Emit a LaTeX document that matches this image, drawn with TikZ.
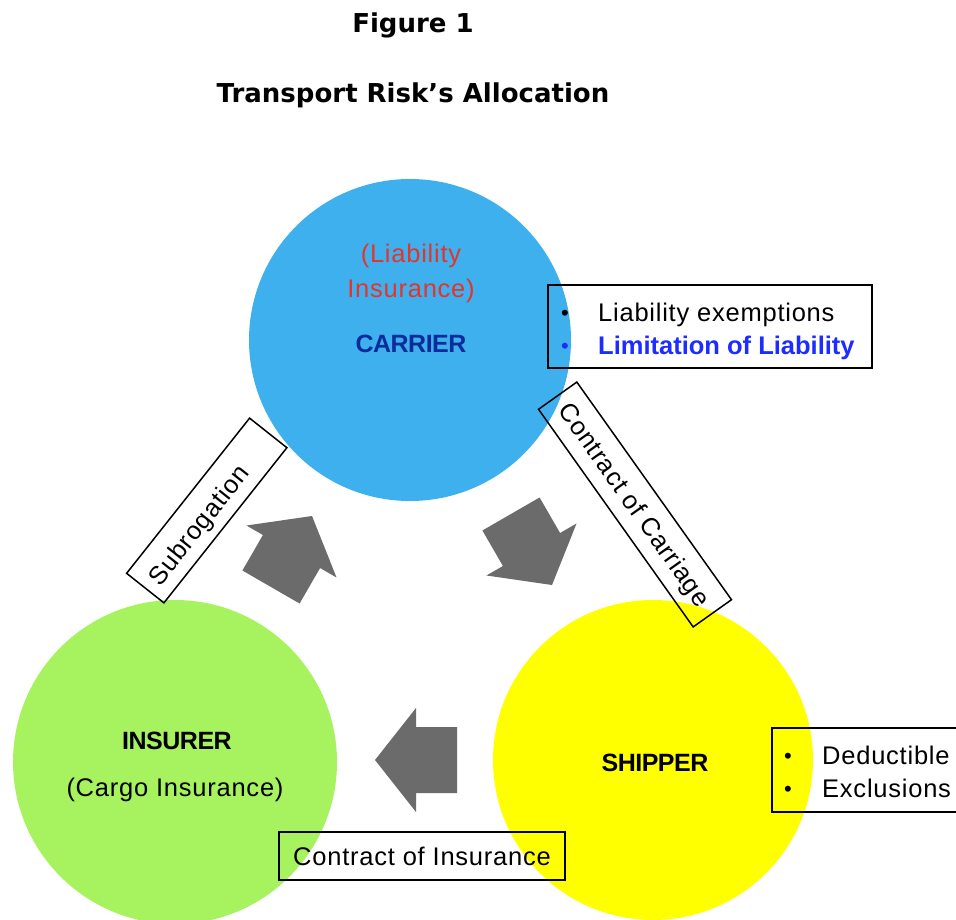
\documentclass[tikz,border=0pt]{standalone}
\usepackage{fontspec}
\usepackage{graphicx}
\setmainfont{Liberation Sans}
\newfontfamily\titlefont{DejaVu Sans}

\definecolor{carrierblue}{HTML}{3DB0ED}
\definecolor{insurergreen}{HTML}{A7F35F}
\definecolor{shipperyellow}{HTML}{FFFF00}
\definecolor{flowgray}{HTML}{6B6B6B}
\definecolor{liabred}{HTML}{E5342B}
\definecolor{carriertext}{HTML}{0C2C9C}
\definecolor{limitblue}{HTML}{1E2DFF}

\tikzset{
  party/.style={circle, inner sep=0pt, outer sep=0pt},
  % text boxes are cut to the cap height so that centre = middle of the capitals
  capbox/.style={text height=18.3pt, text depth=0pt},
  txt/.style={inner sep=0pt, capbox,
    font=\fontsize{25.5}{30}\selectfont\addfontfeatures{LetterSpace=3}},
  heavy/.style={txt, font=\fontsize{25}{30}\selectfont\bfseries\addfontfeatures{LetterSpace=-2}},
  tag/.style={draw=black, line width=1.5pt, rectangle, inner sep=0pt, fill=none},
  dot/.style={inner sep=0pt, text height=16pt, text depth=0pt, font=\fontsize{22}{26}\selectfont},
  headline/.style={inner sep=0pt, text height=19.2pt, text depth=0pt,
    font=\titlefont\fontsize{26}{30}\selectfont\bfseries},
  flowarrow/.pic={
    \fill[flowgray] (0,0) -- (-41,-52) -- (-41,-33) -- (-82,-33)
      -- (-82,33) -- (-41,33) -- (-41,52) -- cycle;
  }
}

\begin{document}
\begin{tikzpicture}[x=1pt, y=-1pt]
  \path[use as bounding box, clip] (0,0) rectangle (956,920);
  \fill[white] (0,0) rectangle (956,920);

  % headings
  \node[headline] (fig) at (413,23) {Figure 1};
  \node[headline] (title) at (413,93) {Transport Risk’s Allocation};

  % the three parties
  \node[party, fill=carrierblue, minimum size=322pt] (carrier) at (410,340) {};
  \node[party, fill=insurergreen, minimum size=324pt] (insurer) at (175,762) {};
  \node[party, fill=shipperyellow, minimum size=320pt] (shipper) at (653,760) {};

  % flow arrows between the parties
  \pic (toCarrier) [rotate=60] at (312,516) {flowarrow};
  \pic (toShipper) [rotate=-60] at (552,585) {flowarrow};
  \pic (toInsurer) [rotate=180] at (375,760) {flowarrow};

  % carrier labels
  \node[txt, text=liabred] (liab1) at (411,253) {(Liability};
  \node[txt, text=liabred] (liab2) at (411,288) {Insurance)};
  \node[heavy, text=carriertext] (carrierlbl) at (411,343) {CARRIER};

  % insurer labels
  \node[heavy] (insurerlbl) at (177,740) {INSURER};
  \node[txt] (cargo) at (175,787) {(Cargo Insurance)};

  % shipper label
  \node[heavy] (shipperlbl) at (655,762) {SHIPPER};

  % carrier defences
  \node[tag, minimum width=324pt, minimum height=83pt] (defbox) at (710,326.5) {};
  \node[dot] (b1) at (565,312) {•};
  \node[dot, text=limitblue] (b2) at (565,345) {•};
  \node[txt, anchor=west] (exempt) at (598,312) {Liability exemptions};
  \node[txt, anchor=west, text=limitblue,
        font=\fontsize{25.5}{30}\selectfont\bfseries] (limit) at (598,345) {Limitation of Liability};

  % shipper retentions
  \node[tag, minimum width=240pt, minimum height=84pt] (retbox) at (892,770) {};
  \node[dot] (b3) at (788,755) {•};
  \node[dot] (b4) at (788,788) {•};
  \node[txt, anchor=west] (deduct) at (822,755) {Deductible};
  \node[txt, anchor=west] (excl) at (822,788) {Exclusions};

  % contract labels
  \node[tag, minimum width=198pt, minimum height=47.6pt, rotate=51.6] (subbox) at (206.75,510.5) {};
  \node[txt, rotate=51.6] (subro) at (198,525) {Subrogation};
  \node[tag, capbox, minimum width=267pt, minimum height=47pt, rotate=-54.6] (carriage) at (635,504.5)
    {\fontsize{25.5}{30}\selectfont\addfontfeatures{LetterSpace=3}Contract of Carriage};
  \node[tag, capbox, minimum width=286pt, minimum height=48pt] (insurance) at (422,856)
    {\fontsize{25.5}{30}\selectfont\addfontfeatures{LetterSpace=3}Contract of Insurance};
\end{tikzpicture}
\end{document}
